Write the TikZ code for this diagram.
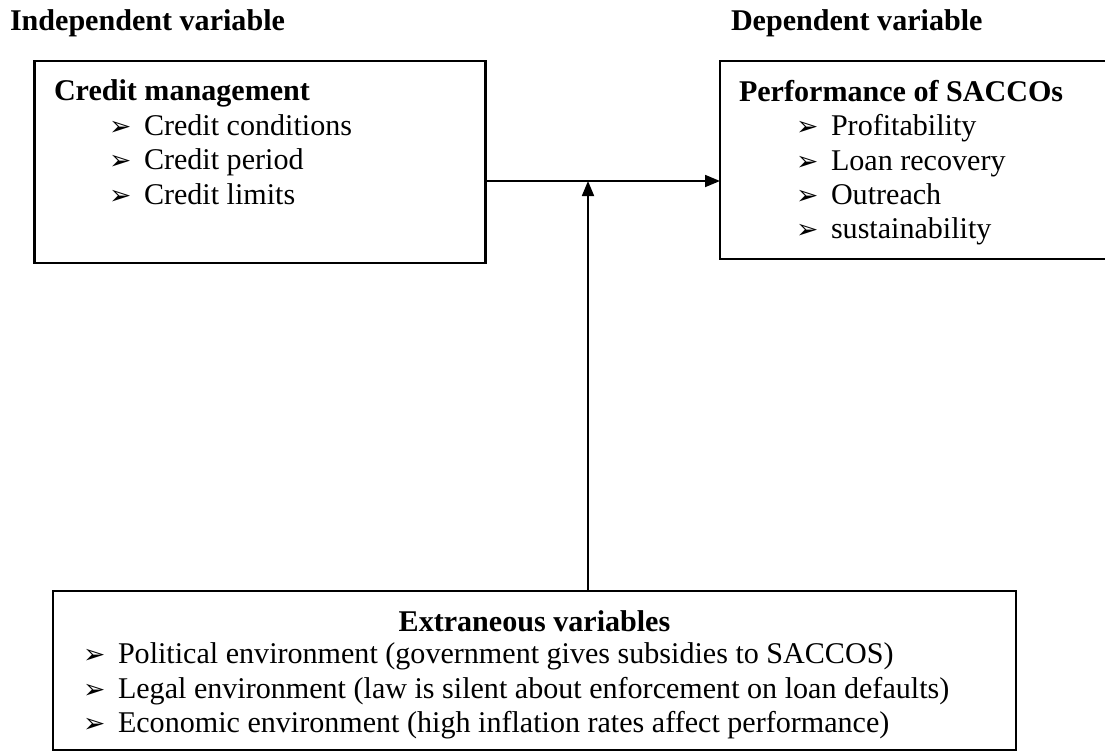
\documentclass[tikz,border=0pt]{standalone}
\usepackage{fontspec}
\setmainfont{Liberation Serif}
\newfontfamily\dingfont{DejaVu Sans}
\usepackage{tikz}
\usetikzlibrary{positioning,arrows.meta}
\newcommand{\arr}{{\dingfont\fontsize{7.6}{7.6}\selectfont ➢}}
\newcommand{\itm}[2][0.55cm]{\hspace*{#1}\makebox[0.35cm][l]{\arr}#2}

\begin{document}
\begin{tikzpicture}[>={Triangle[length=0.15cm,width=0.12cm]},
    every node/.style={inner sep=0pt, outer sep=0pt},
    box/.style={draw, line width=0.65pt, anchor=north west},
    list/.style={align=left, anchor=north west, font=\fontsize{8.56}{9.8}\selectfont},
    head/.style={anchor=base west, font=\bfseries\fontsize{8.56}{9.8}\selectfont}]
\clip (0,0) rectangle (11.05,7.52);

    % Headings
    \node[head] (indep) at (0.10,7.22) {Independent variable};
    \node[head] (dep) at (7.31,7.22) {Dependent variable};

    % Boxes
    \node[box, minimum width=4.51cm, minimum height=2.02cm] (credit) at (0.345,6.91) {};
    \node[box, minimum width=3.95cm, minimum height=1.98cm] (perf) at (7.20,6.91) {};
    \node[box, minimum width=9.63cm, minimum height=1.59cm] (extra) at (0.53,1.61) {};

    % Box contents
    \node[list, below right=0.19cm and 0.195cm of credit.north west] (creditTxt)
        {\textbf{Credit management}\\ \itm{Credit conditions}\\ \itm{Credit period}\\ \itm{Credit limits}};
    \node[list, below right=0.19cm and 0.19cm of perf.north west] (perfTxt)
        {\textbf{Performance of SACCOs}\\ \itm[0.57cm]{Profitability}\\ \itm[0.57cm]{Loan recovery}\\
         \itm[0.57cm]{Outreach}\\ \itm[0.57cm]{sustainability}};
    \node[head, anchor=north] (extraHead) at ([yshift=-0.20cm]extra.north) {Extraneous variables};
    \node[list, below right=0.52cm and 0.30cm of extra.north west] (extraTxt)
        {\itm[0pt]{Political environment (government gives subsidies to SACCOS)}\\
         \itm[0pt]{Legal environment (law is silent about enforcement on loan defaults)}\\
         \itm[0pt]{Economic environment (high inflation rates affect performance)}};

    % --- Arrows ---
    \coordinate (join) at (5.88,5.71);
    \draw[->, line width=0.5pt] (credit.east |- join) -- (perf.west |- join);
    \draw[->, line width=0.5pt] (extra.north -| join) -- (join);
\end{tikzpicture}
\end{document}
